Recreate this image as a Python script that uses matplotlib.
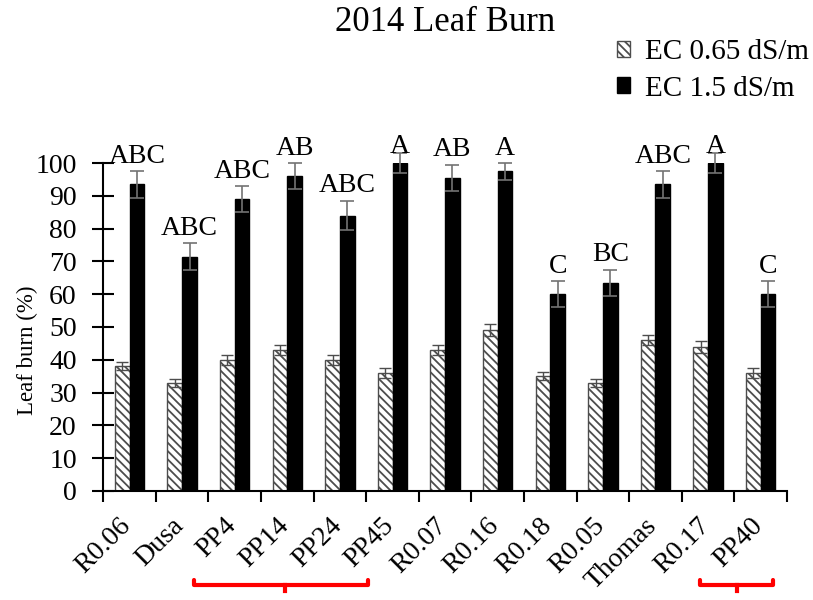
import matplotlib.pyplot as plt
import matplotlib.lines as mlines
import matplotlib.transforms as mtransforms
import numpy as np

plt.rcParams['font.family'] = ['Liberation Serif', 'DejaVu Serif']
plt.rcParams['hatch.linewidth'] = 1.3

lines = ['R0.06', 'Dusa', 'PP4', 'PP14', 'PP24', 'PP45', 'R0.07',
         'R0.16', 'R0.18', 'R0.05', 'Thomas', 'R0.17', 'PP40']
low_ec = [38, 33, 40, 43, 40, 36, 43, 49, 35, 33, 46, 44, 36]
low_err = [1.2, 1.2, 1.5, 1.5, 1.5, 1.5, 1.5, 1.8, 1.2, 1.2, 1.5, 1.8, 1.5]
high_ec = [93.5, 71.5, 89, 96, 84, 100, 95.5, 97.5, 60, 63.5, 93.5, 100, 60]
high_err = [4, 4, 4, 4, 4.5, 3, 4, 2.5, 4, 4, 4, 3, 4]
letters = ['ABC', 'ABC', 'ABC', 'AB', 'ABC', 'A', 'AB', 'A', 'C', 'BC', 'ABC', 'A', 'C']

x = np.arange(len(lines))
w = 0.28

fig = plt.figure(figsize=(8.13, 6), dpi=100)
ax = fig.add_axes([0.127, 0.182, 0.841, 0.546])

ax.bar(x - w / 2, low_ec, w, color='white', edgecolor='0.3', linewidth=1.0,
       hatch='\\\\\\\\', label='EC 0.65 dS/m')
ax.bar(x + w / 2, high_ec, w, color='black', edgecolor='black', linewidth=1.0,
       label='EC 1.5 dS/m')
ax.errorbar(x - w / 2, low_ec, yerr=low_err, fmt='none', ecolor='0.3',
            elinewidth=1, capsize=4, capthick=1)
ax.errorbar(x + w / 2, high_ec, yerr=high_err, fmt='none', ecolor='0.45',
            elinewidth=1.2, capsize=5, capthick=1.2, clip_on=False)

for i in range(len(lines)):
    top = min(high_ec[i] + high_err[i], 100.5)
    ax.text(x[i] + w / 2, top + 0.8, letters[i], ha='center', va='bottom',
            fontsize=20, clip_on=False)

ax.set_ylim(0, 100)
ax.set_xlim(-0.5, len(lines) - 0.5)
ax.set_yticks(range(0, 101, 10))
ax.tick_params(axis='y', direction='inout', length=16, width=1.5, labelsize=20, pad=11)
ax.set_xticks(x)
ax.set_xticklabels(lines, rotation=45, ha='right', rotation_mode='anchor', fontsize=20)
ax.tick_params(axis='x', which='major', length=0, pad=16)
# shift the rotated labels a little to the left, like the original
shift = mtransforms.ScaledTranslation(-0.11, 0, fig.dpi_scale_trans)
for lab in ax.get_xticklabels():
    lab.set_transform(lab.get_transform() + shift)
ax.set_xticks(np.arange(-0.5, len(lines), 1), minor=True)
ax.tick_params(axis='x', which='minor', direction='out', length=8, width=1.5)
ax.set_ylabel('Leaf burn (%)', fontsize=16.5)
ax.yaxis.set_label_coords(-0.095, 0.43)

ax.spines['right'].set_visible(False)
ax.spines['top'].set_visible(False)
ax.spines['left'].set_linewidth(1.5)
ax.spines['bottom'].set_linewidth(1.5)

fig.text(0.547, 0.963, '2014 Leaf Burn', ha='center', va='center', fontsize=25)
ax.legend(loc='upper right', bbox_to_anchor=(1.027, 0.978), bbox_transform=fig.transFigure,
          frameon=False, fontsize=21, handlelength=0.45, handleheight=0.45,
          handletextpad=0.5, labelspacing=0.35)

# red brackets under the PP lines
trans = mtransforms.blended_transform_factory(ax.transData, ax.transAxes)
for left, right, mid in [(1.22, 4.54, 2.96), (10.85, 12.24, 11.55)]:
    ax.add_line(mlines.Line2D([left, left, right, right], [-0.273, -0.288, -0.288, -0.273],
                              color='red', lw=3, transform=trans, clip_on=False,
                              solid_joinstyle='round', solid_capstyle='round'))
    ax.add_line(mlines.Line2D([mid, mid], [-0.288, -0.305], color='red', lw=3,
                              transform=trans, clip_on=False))

plt.savefig('out.png', dpi=100)
